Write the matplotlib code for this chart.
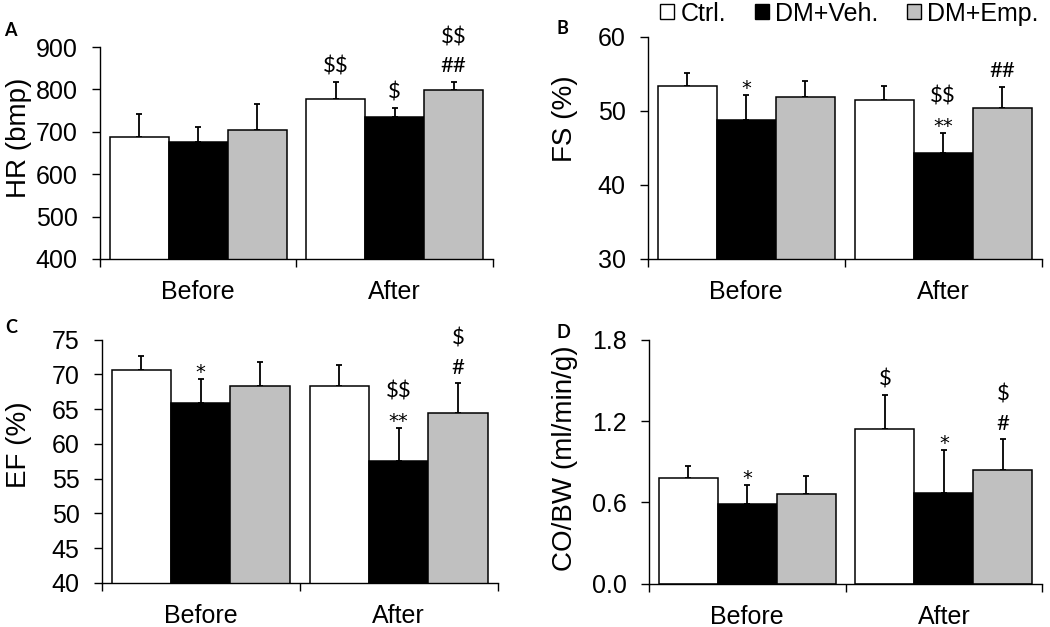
import matplotlib
matplotlib.use("Agg")
import matplotlib.pyplot as plt
from matplotlib.patches import Patch
import numpy as np

plt.rcParams["font.family"] = ["Liberation Sans", "DejaVu Sans"]
plt.rcParams["text.parse_math"] = False

groups = ["Before", "After"]
series = ["Ctrl.", "DM+Veh.", "DM+Emp."]
colors = ["white", "black", "#c0c0c0"]

# values per series: [Before, After]; marks listed top line first
hr_mean = [[688, 778], [676, 735], [704, 799]]
hr_err = [[55, 39], [35, 20], [62, 18]]
hr_marks = [["", "$$"], ["", "$"], ["", "$$\n##"]]

fs_mean = [[53.4, 51.5], [48.7, 44.3], [51.8, 50.4]]
fs_err = [[1.7, 1.8], [3.4, 2.7], [2.2, 2.8]]
fs_marks = [["", ""], ["*", "$$\n**"], ["", "##"]]

ef_mean = [[70.7, 68.4], [65.85, 57.5], [68.4, 64.4]]
ef_err = [[2.0, 2.9], [3.5, 4.8], [3.4, 4.3]]
ef_marks = [["", ""], ["*", "$$\n**"], ["", "$\n#"]]

co_mean = [[0.782, 1.141], [0.590, 0.671], [0.662, 0.841]]
co_err = [[0.086, 0.253], [0.136, 0.315], [0.135, 0.224]]
co_marks = [["", "$"], ["*", "*"], ["", "$\n#"]]

panels = [
    ("A", "HR (bmp)", hr_mean, hr_err, hr_marks, (400, 900), np.arange(400, 901, 100), "{:.0f}"),
    ("B", "FS (%)", fs_mean, fs_err, fs_marks, (30, 60), np.arange(30, 61, 10), "{:.0f}"),
    ("C", "EF (%)", ef_mean, ef_err, ef_marks, (40, 75), np.arange(40, 76, 5), "{:.0f}"),
    ("D", "CO/BW (ml/min/g)", co_mean, co_err, co_marks, (0, 1.8), np.arange(0, 1.81, 0.6), "{:.1f}"),
]

boxes = [
    [0.0952, 0.587, 0.3743, 0.338],
    [0.617, 0.587, 0.375, 0.3545],
    [0.0969, 0.0702, 0.377, 0.388],
    [0.618, 0.069, 0.3747, 0.389],
]
letter_pos = [(0.004, 0.951), (0.530, 0.9545), (0.005, 0.477), (0.530, 0.469)]
label_pos = [(-0.173, 0.573), (-0.178, 0.63), (-0.176, 0.569), (-0.180, 0.513)]


def draw_marks(ax, x, y, text):
    # stack the lines bottom-up, asterisks in a font with a bigger glyph
    off = None
    for line in reversed(text.split("\n")):
        star = "*" in line
        if off is None:
            off = 1 if star else 7
        else:
            off += 21
        ax.annotate(line, (x, y), xytext=(0, off), textcoords="offset points",
                    ha="center", va="baseline",
                    fontsize=14 if star else 16,
                    family=["DejaVu Sans"] if star else ["Lato", "DejaVu Sans"])


fig = plt.figure(figsize=(10.5, 6.27), dpi=100)

for (letter, ylabel, means, errs, marks, ylim, yticks, fmt), box, lp, yl in zip(
        panels, boxes, letter_pos, label_pos):
    ax = fig.add_axes(box)
    x = np.arange(len(groups))
    for i in range(3):
        xs = x + 0.2 + 0.3 * i
        ax.bar(xs, means[i], width=0.3, color=colors[i], edgecolor="black",
               linewidth=1.1, zorder=2)
        ax.errorbar(xs, means[i], yerr=[[0, 0], errs[i]], fmt="none",
                    ecolor="black", elinewidth=1.3, capsize=2.5, capthick=1.3, zorder=1)
        for j in range(2):
            if marks[i][j]:
                draw_marks(ax, xs[j], means[i][j] + errs[i][j], marks[i][j])
    ax.set_xlim(0, 2)
    ax.set_ylim(*ylim)
    ax.set_yticks(yticks)
    ax.set_yticklabels([fmt.format(v) for v in yticks])
    ax.set_xticks([0.5, 1.5])
    ax.set_xticklabels(groups)
    ax.set_xticks([0, 1, 2], minor=True)
    ax.tick_params(axis="x", which="major", length=0, pad=15, labelsize=18)
    ax.tick_params(axis="x", which="minor", length=6, direction="out", width=1)
    ax.tick_params(axis="y", length=6, direction="out", width=1, labelsize=18, pad=10)
    ax.spines["top"].set_visible(False)
    ax.spines["right"].set_visible(False)
    ax.spines["left"].set_linewidth(1)
    ax.spines["bottom"].set_linewidth(1)
    ax.set_ylabel(ylabel, fontsize=20)
    ax.yaxis.set_label_coords(yl[0], yl[1])
    fig.text(lp[0], lp[1], letter, fontsize=13, fontweight="bold",
             family=["Lato", "DejaVu Sans"], va="center")

handles = [Patch(facecolor=c, edgecolor="black", linewidth=1) for c in colors]
fig.legend(handles, series, loc="center left", bbox_to_anchor=(0.629, 0.978),
           ncol=3, frameon=False, fontsize=18, handlelength=0.55, handleheight=0.55,
           handletextpad=0.25, columnspacing=1.15, borderpad=0, borderaxespad=0)

fig.savefig("out.png", dpi=100)
